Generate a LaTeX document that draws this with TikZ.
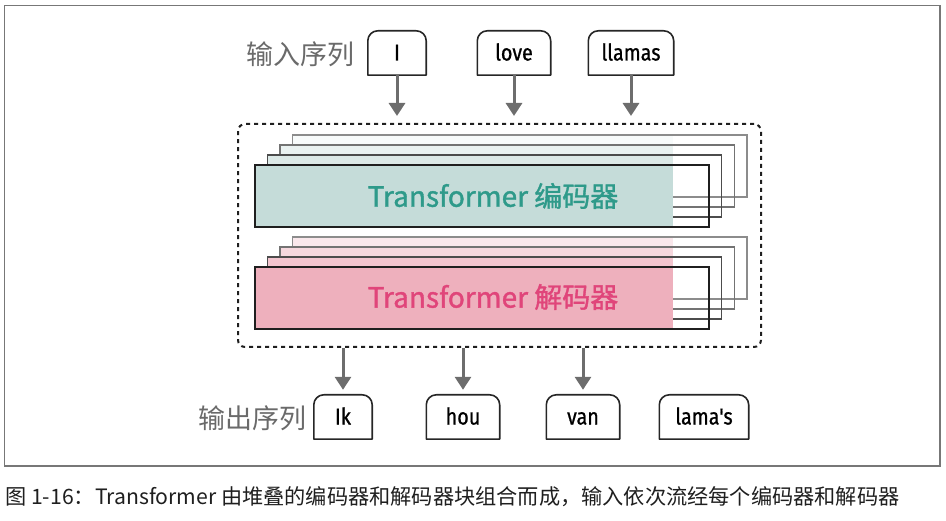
\documentclass[tikz,border=0pt]{standalone}
\usepackage{fontspec}
\usetikzlibrary{arrows.meta}
\newfontfamily\cjkfont{Noto Sans CJK SC}
\newfontfamily\cjkmed[FakeBold=1.3]{Noto Sans CJK SC}
\newfontfamily\tokfont[FakeStretch=0.86,FakeBold=0.8]{Fira Sans}

\definecolor{framegray}{HTML}{777777}
\definecolor{arrgray}{HTML}{6D6D6D}
\definecolor{labgray}{HTML}{6A6A6A}
\definecolor{encteal}{HTML}{2E9A8A}
\definecolor{decpink}{HTML}{E0457A}
\definecolor{encA}{HTML}{C5DCD9}
\definecolor{encB}{HTML}{DCE9E7}
\definecolor{encC}{HTML}{EAF2F1}
\definecolor{encD}{HTML}{F8FBFB}
\definecolor{decA}{HTML}{EEB0BD}
\definecolor{decB}{HTML}{F3C5CF}
\definecolor{decC}{HTML}{F6D8DE}
\definecolor{decD}{HTML}{FAE8EC}

\tikzset{
  tok/.style={font=\tokfont\fontsize{23}{25}\selectfont, minimum height=44pt,
    inner sep=0pt, text height=16pt, text depth=1pt},
  seqlabel/.style={font=\cjkfont\fontsize{27}{30}\selectfont, text=labgray,
    anchor=east, inner sep=0pt},
  arr/.style={draw=arrgray, line width=3pt, -{Triangle[width=16pt,length=13pt]}},
  toklines/.style={line width=1.6pt, draw=black!85, line join=round}
}

\begin{document}
\begin{tikzpicture}[x=1pt,y=-1pt]
  \useasboundingbox (0,0) rectangle (946,521);
  \draw[framegray, line width=1.3pt] (4.5,5.5) rectangle (940,466);

  % encoder and decoder stacks, back layer first
  \foreach \k/\fc/\lc in {3/encD/black!45,2/encC/black!55,1/encB/black!70,0/encA/black!88} {
    \fill[\fc] (255+12.5*\k,165-10*\k) rectangle (673,227-10*\k);
    \draw[line width=1.5pt,\lc] (255+12.5*\k,165-10*\k) rectangle (709+12.7*\k,227-10*\k);
  }
  \foreach \k/\fc/\lc in {3/decD/black!45,2/decC/black!55,1/decB/black!70,0/decA/black!88} {
    \fill[\fc] (255+12.5*\k,267-10*\k) rectangle (673,329-10*\k);
    \draw[line width=1.5pt,\lc] (255+12.5*\k,267-10*\k) rectangle (709+12.7*\k,329-10*\k);
  }
  \node[font=\cjkmed\fontsize{28}{30}\selectfont, text=encteal] (enc) at (493,196) {Transformer 编码器};
  \node[font=\cjkmed\fontsize{28}{30}\selectfont, text=decpink] (dec) at (493,297) {Transformer 解码器};

  \node[draw=black!88, line width=2pt, dash pattern=on 4pt off 4pt, rounded corners=7pt,
    minimum width=523pt, minimum height=223pt, inner sep=0pt] (stack) at (499.5,235.5) {};

  % input tokens
  \node[tok, minimum width=58pt] (in1) at (397,53) {I};
  \node[tok, minimum width=73pt] (in2) at (514,53) {love};
  \node[tok, minimum width=85pt] (in3) at (631,53) {llamas};
  \node[seqlabel] (inlab) at (355,54) {输入序列};

  % output tokens
  \node[tok, minimum width=58pt] (out1) at (343,417) {Ik};
  \node[tok, minimum width=73pt] (out2) at (463,417) {hou};
  \node[tok, minimum width=73pt] (out3) at (583,417) {van};
  \node[tok, minimum width=89pt] (out4) at (704,417) {lama's};
  \node[seqlabel] (outlab) at (307,418) {输出序列};

  \foreach \n in {in1,in2,in3,out1,out2,out3,out4}
    \draw[toklines] (\n.south west) [rounded corners=10pt] -- (\n.north west) -- (\n.north east)
      [sharp corners] -- (\n.south east) -- cycle;

  \foreach \n in {in1,in2,in3}
    \draw[arr, shorten >=7pt] (\n.south) -- (\n |- stack.north);
  \foreach \n in {out1,out2,out3}
    \draw[arr, shorten >=5pt] (\n |- stack.south) -- (\n.north);

  \node[font=\cjkfont\fontsize{21.2}{23}\selectfont, text=black!88, anchor=west, inner sep=0pt] (cap) at (5,497)
    {图 1-16：Transformer 由堆叠的编码器和解码器块组合而成，输入依次流经每个编码器和解码器};
\end{tikzpicture}
\end{document}
